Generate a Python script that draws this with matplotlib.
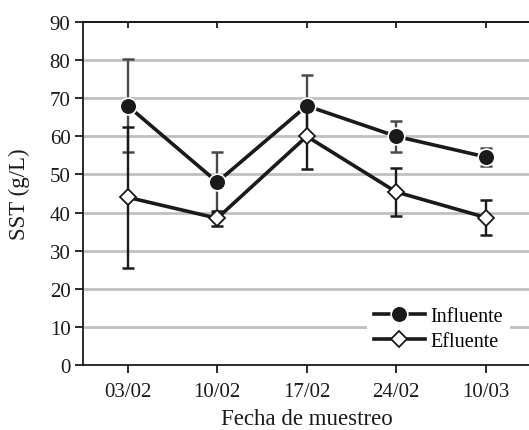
import matplotlib
matplotlib.use("Agg")
import matplotlib.pyplot as plt
import numpy as np

categories = ["03/02", "10/02", "17/02", "24/02", "10/03"]
influente = [68.0, 48.0, 68.0, 60.0, 54.6]
influente_err = [12.2, 8.0, 8.0, 4.0, 2.4]
efluente = [44.0, 38.5, 60.0, 45.4, 38.7]
efluente_err = [18.5, 2.0, 8.5, 6.2, 4.6]
yticks = [0, 10, 20, 30, 40, 50, 60, 70, 80, 90]

plt.rcParams['font.family'] = ['Liberation Serif', 'DejaVu Serif']

W, H = 529, 431
fig = plt.figure(figsize=(W / 100, H / 100), dpi=100)
ax = fig.add_axes([83 / W, (H - 366) / H, 447.5 / W, 343 / H])

x = np.arange(len(categories))

for v in yticks[1:-1]:
    ax.axhline(v, color="#c0c0c0", lw=2.0, zorder=0)

ax.errorbar(x, influente, yerr=influente_err, fmt="none", ecolor="#4a4a4a",
            elinewidth=1.7, capsize=4.5, capthick=1.8, zorder=2)
ax.plot(x, influente, color="#1a1a1a", lw=2.6, marker="o", markersize=12,
        markerfacecolor="#1a1a1a", markeredgecolor="white", markeredgewidth=1.2,
        label="Influente", zorder=3)
ax.errorbar(x, efluente, yerr=efluente_err, fmt="none", ecolor="#1a1a1a",
            elinewidth=1.7, capsize=4.5, capthick=1.8, zorder=4)
ax.plot(x, efluente, color="#1a1a1a", lw=2.6, marker="D", markersize=8,
        markerfacecolor="white", markeredgecolor="#1a1a1a", markeredgewidth=1.3,
        label="Efluente", zorder=5)

ax.set_xlim(-0.5, len(categories) - 0.5)
ax.set_ylim(0, 90)
ax.set_yticks(yticks)
ax.set_xticks(x)
ax.set_xticklabels(categories)

for s in ["left", "bottom", "top"]:
    ax.spines[s].set_color("#1a1a1a")
    ax.spines[s].set_linewidth(1.3)
ax.spines["right"].set_visible(False)

ax.tick_params(axis="both", direction="out", length=6, width=1.3,
               labelsize=15, colors="#1a1a1a")
ax.tick_params(axis="x", pad=6)
ax.tick_params(axis="y", pad=3)

top = ax.secondary_xaxis("top")
top.set_xticks(x)
top.set_xticklabels([])
top.tick_params(direction="in", length=4, width=1.3, colors="#1a1a1a")
top.spines["top"].set_linewidth(1.3)
top.spines["top"].set_color("#1a1a1a")

ax.set_ylabel("SST (g/L)", fontsize=16.5, color="#1a1a1a", labelpad=14)
ax.set_xlabel("Fecha de muestreo", fontsize=16.5, color="#1a1a1a", labelpad=5.5)

leg = ax.legend(loc="lower right", bbox_to_anchor=(0.955, 0.02), frameon=True,
                fancybox=False, edgecolor="white", framealpha=1.0,
                fontsize=14.5, handlelength=2.5, handletextpad=0.3,
                borderpad=0.35, labelspacing=0.3, borderaxespad=0.0)
leg.get_frame().set_linewidth(0)

fig.savefig("out.png", dpi=100)
